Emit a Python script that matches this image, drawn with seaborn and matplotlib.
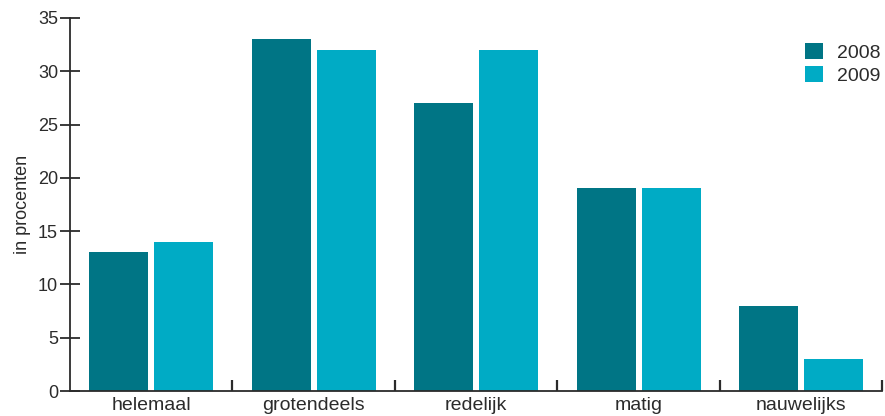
import pandas as pd
import matplotlib
matplotlib.use("Agg")
import matplotlib.pyplot as plt
import seaborn as sns
from matplotlib.ticker import FixedLocator

categories = ["helemaal", "grotendeels", "redelijk", "matig", "nauwelijks"]
values_2008 = [13, 33, 27, 19, 8]
values_2009 = [14, 32, 32, 19, 3]
years = ["2008", "2009"]
colors = ["#007585", "#00abc5"]

df = pd.DataFrame({
    "categorie": categories * 2,
    "waarde": values_2008 + values_2009,
    "jaar": [years[0]] * len(categories) + [years[1]] * len(categories),
})

sns.set_style("white")
plt.rcParams["font.family"] = ["Liberation Sans", "DejaVu Sans"]
text_color = "#2b2b2b"

fig = plt.figure(figsize=(8.85, 4.16), dpi=100)
ax = fig.add_axes([0.079, 0.06, 0.918, 0.897])

sns.barplot(data=df, x="categorie", y="waarde", hue="jaar", order=categories,
            hue_order=years, palette=colors, width=0.8, gap=0.09,
            saturation=1, linewidth=0, ax=ax)

ax.set_xlim(-0.5, 4.5)
ax.set_ylim(0, 35)
ax.set_yticks(range(0, 36, 5))
ax.set_xlabel("")
ax.set_ylabel("in procenten", fontsize=13, color=text_color, labelpad=5)

for s in ["top", "right"]:
    ax.spines[s].set_visible(False)
for s in ["left", "bottom"]:
    ax.spines[s].set_color(text_color)
    ax.spines[s].set_linewidth(1.3)

ax.tick_params(axis="y", left=True, direction="inout", length=15, width=1.3,
               color=text_color, labelsize=13, labelcolor=text_color, pad=1)
ax.tick_params(axis="x", which="major", bottom=True, length=0, labelsize=14,
               labelcolor=text_color, pad=4)
ax.xaxis.set_minor_locator(FixedLocator([0.5, 1.5, 2.5, 3.5, 4.5]))
ax.tick_params(axis="x", which="minor", bottom=True, direction="in", length=8,
               width=1.6, color=text_color)

ax.legend(loc="upper right", bbox_to_anchor=(1.012, 0.965), frameon=False,
          fontsize=14, handlelength=0.95, handleheight=0.95, handletextpad=0.7,
          labelspacing=0.2, labelcolor=text_color, borderaxespad=0.2)

fig.savefig("out.png", dpi=100)
